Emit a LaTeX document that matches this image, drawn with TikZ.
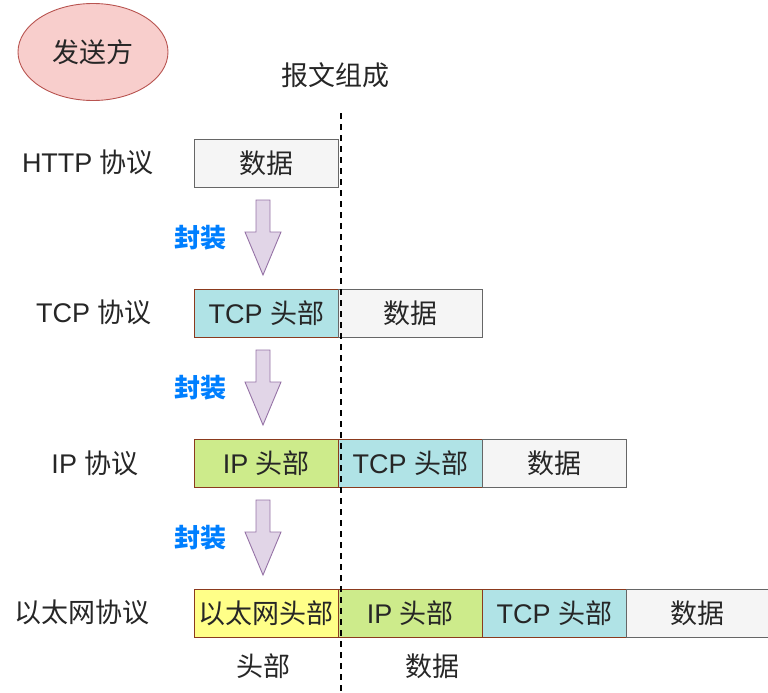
\documentclass[tikz,border=0pt]{standalone}
\usepackage{fontspec}
\setmainfont{Liberation Sans}
\newfontfamily\cjk{Noto Sans CJK SC}
\usetikzlibrary{shapes.geometric}
\definecolor{datafill}{HTML}{F5F5F5}
\definecolor{datadraw}{HTML}{666666}
\definecolor{tcpfill}{HTML}{B0E3E6}
\definecolor{ipfill}{HTML}{CDEB8B}
\definecolor{ethfill}{HTML}{FFFF88}
\definecolor{hdrdraw}{HTML}{8B3A1E}
\definecolor{ellfill}{HTML}{F8CECC}
\definecolor{elldraw}{HTML}{B85450}
\definecolor{arrfill}{HTML}{E1D5E7}
\definecolor{arrdraw}{HTML}{9673A6}
\definecolor{encblue}{HTML}{007FFF}
\tikzset{
  x=1pt, y=-1pt,
  txt/.style={font=\fontsize{27}{32}\selectfont, text=black!85, inner sep=0pt},
  cell/.style={txt, minimum width=144pt, minimum height=48pt, line width=0.9pt, anchor=north west},
  datacell/.style={cell, fill=datafill, draw=datadraw},
  tcpcell/.style={cell, fill=tcpfill, draw=hdrdraw},
  ipcell/.style={cell, fill=ipfill, draw=hdrdraw},
  ethcell/.style={cell, fill=ethfill, draw=hdrdraw},
  enc/.style={font=\fontsize{26}{30}\selectfont\cjk\bfseries, text=encblue, inner sep=0pt},
  blockarrow/.style={fill=arrfill, draw=arrdraw, line width=0.9pt, line join=miter},
}
\begin{document}
\begin{tikzpicture}
\useasboundingbox (0,0) rectangle (768,693);
% sender ellipse
\node[ellipse, fill=ellfill, draw=elldraw, line width=0.9pt, minimum width=150pt, minimum height=97pt, txt] (sender) at (93,52) {\cjk 发送方};
\node[txt] (title) at (335,75) {\cjk 报文组成};
% HTTP row
\node[txt] (lhttp) at (88,162) {HTTP {\cjk 协议}};
\node[datacell] (h1) at (194,139) {\cjk 数据};
% TCP row
\node[txt] (ltcp) at (94,312) {TCP {\cjk 协议}};
\node[tcpcell] (t1) at (194,289) {TCP {\cjk 头部}};
\node[datacell] (t2) at (338,289) {\cjk 数据};
% IP row
\node[txt] (lip) at (95,463) {IP {\cjk 协议}};
\node[ipcell] (i1) at (194,439) {IP {\cjk 头部}};
\node[tcpcell] (i2) at (338,439) {TCP {\cjk 头部}};
\node[datacell] (i3) at (482,439) {\cjk 数据};
% Ethernet row
\node[txt] (leth) at (82,612) {\cjk 以太网协议};
\node[ethcell] (e1) at (194,589) {\cjk 以太网头部};
\node[ipcell] (e2) at (338,589) {IP {\cjk 头部}};
\node[tcpcell] (e3) at (482,589) {TCP {\cjk 头部}};
\node[datacell, minimum width=142pt] (e4) at (626,589) {\cjk 数据};
% bottom labels
\node[txt] (lhdr) at (263,666) {\cjk 头部};
\node[txt] (ldata) at (432,666) {\cjk 数据};
% dashed divider (on top of boxes)
\coordinate (dtop) at (341,113);
\coordinate (dbot) at (341,692);
\draw[line width=2pt, dash pattern=on 6pt off 5pt] (dtop) -- (dbot);
% encapsulation arrows
\foreach \t/\n in {200/a1,350/a2,500/a3}{
  \draw[blockarrow] (256,\t) -- (270,\t) -- (270,\t+32) -- (281,\t+32) -- (263,\t+75) -- (245,\t+32) -- (256,\t+32) -- cycle;
  \node[enc] (\n) at (200,\t+38) {封装};
}
\end{tikzpicture}
\end{document}
